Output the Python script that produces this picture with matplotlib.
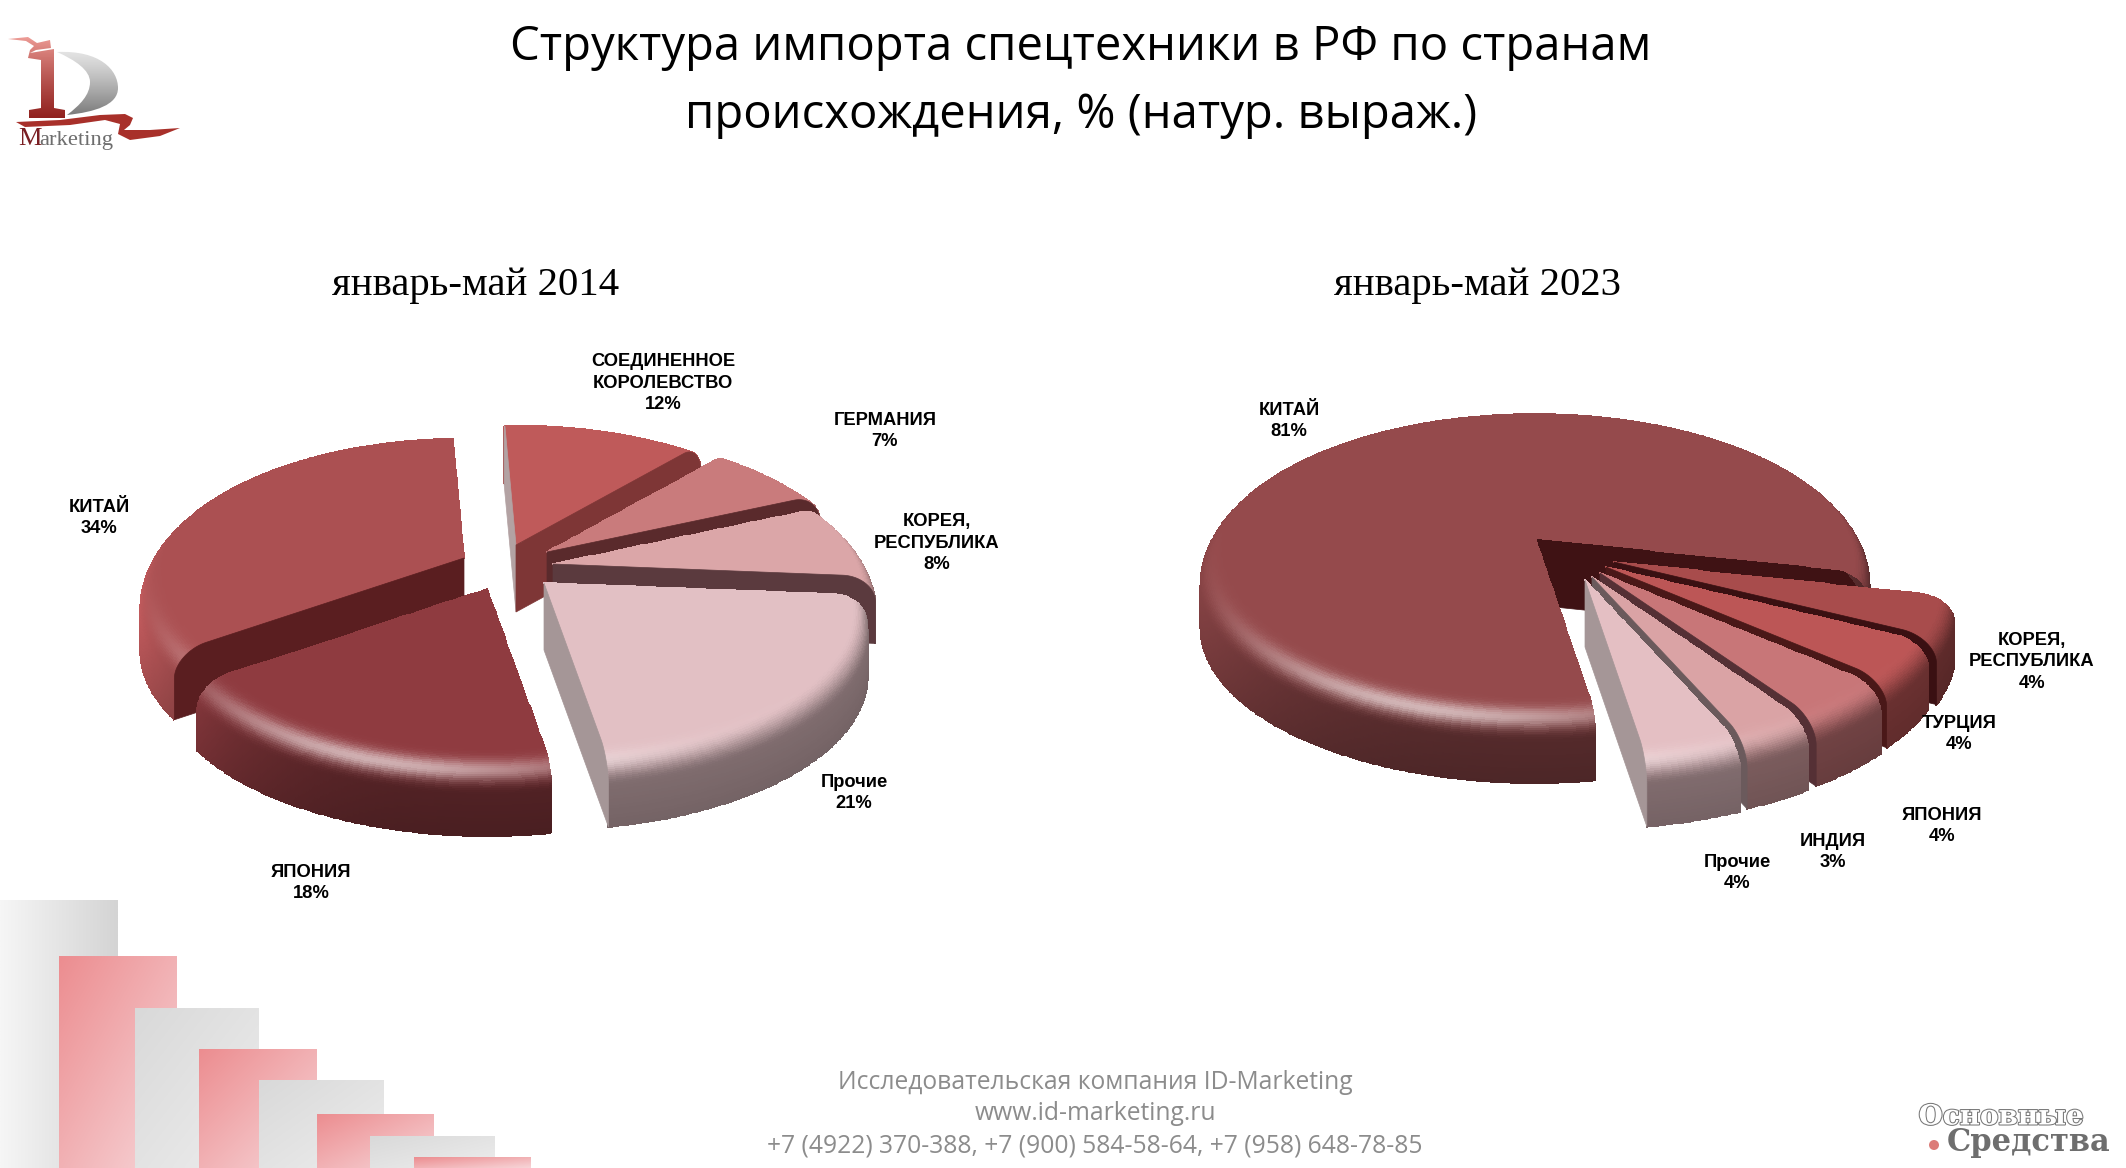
import numpy as np
import matplotlib
matplotlib.use("Agg")
import matplotlib.pyplot as plt
from matplotlib.colors import to_rgb
from matplotlib.patches import Circle, PathPatch, Polygon
from matplotlib.path import Path
import matplotlib.patheffects as pe

# Data
names_2014 = ["СОЕДИНЕННОЕ\nКОРОЛЕВСТВО", "ГЕРМАНИЯ", "КОРЕЯ,\nРЕСПУБЛИКА", "Прочие", "ЯПОНИЯ", "КИТАЙ"]
values_2014 = [12, 7, 8, 21, 18, 34]
names_2023 = ["КИТАЙ", "КОРЕЯ,\nРЕСПУБЛИКА", "ТУРЦИЯ", "ЯПОНИЯ", "ИНДИЯ", "Прочие"]
values_2023 = [81, 4, 4, 4, 3, 4]

title = "Структура импорта спецтехники в РФ по странам\nпроисхождения, % (натур. выраж.)"
period_2014 = "январь-май 2014"
period_2023 = "январь-май 2023"
footer = "Исследовательская компания ID-Marketing\nwww.id-marketing.ru\n+7 (4922) 370-388, +7 (900) 584-58-64, +7 (958) 648-78-85"

# Look of each pie: slice colours, apex of every exploded slice, colours of cut faces
colors_2014 = ["#BF5A5A", "#C97B7C", "#DBA6A8", "#E2C0C4", "#8F3B40", "#AB5052"]
apex_2014 = [(516, 545), (547, 552), (553, 564), (544, 583), (487, 589), (464, 558)]
scale_2014 = [1, 1, 1, 1, 1, 1]
start_face_2014 = ["#B3A2A3", None, None, None, None, "#5A1E20"]
end_face_2014 = ["#7E3636", "#5A2A2C", "#5B3A3E", "#A59697", None, None]
label_pos_2014 = [(663, 383), (885, 431), (937, 543), (854, 793), (311, 883), (99, 518)]

colors_2023 = ["#954A4C", "#A84C4C", "#BC5656", "#C87678", "#DAA3A5", "#E4BFC3"]
apex_2023 = [(1535, 538), (1614, 562), (1606, 567), (1600, 573), (1592, 577), (1585, 580)]
scale_2023 = [1, 1.02, 1.02, 1.02, 1.02, 1.02]
start_face_2023 = [None, None, None, None, None, None]
end_face_2023 = ["#3F1214", "#3A1012", "#4A1818", "#553035", "#6B5A5C", "#A59697"]
label_pos_2023 = [(1289, 421), (2032, 662), (1959, 734), (1942, 826), (1833, 852), (1737, 873)]

fig = plt.figure(figsize=(21.26, 11.68), dpi=100, facecolor="white")
ax = fig.add_axes([0, 0, 1, 1])
ax.axis("off")

# Profile of the rounded edge, from the rim bottom to the centre (drawn in this order)
n_top, n_bev, n_wall = 30, 26, 14
phi = np.linspace(0, np.pi / 2, n_bev)
prof_r = np.concatenate([np.linspace(0, 0.9, n_top), 0.9 + 0.1 * np.sin(phi), np.ones(n_wall)])
prof_z = np.concatenate([np.zeros(n_top), 0.38 * (1 - np.cos(phi)), np.linspace(0.38, 1, n_wall)])
prof_b = np.concatenate([np.zeros(n_top), np.linspace(0, 1, n_bev), np.ones(n_wall)])
prof_w = np.concatenate([np.zeros(n_top + n_bev), np.linspace(0, 1, n_wall)])
prof_r, prof_z, prof_b, prof_w = prof_r[::-1], prof_z[::-1], prof_b[::-1], prof_w[::-1]


def project(cx, cy, r, a, z, R, ry_back, ry_front, depth):
    # a is clockwise from the top; perspective makes the near half longer
    k = (ry_front - ry_back) / (ry_front + ry_back)
    b = ry_back * (1 + k)
    u, v = r * np.sin(a), r * np.cos(a)
    w = 1 + k * v
    return cx + R * u / w, cy - b * v / w + z * depth


def draw_faces(i, a0, a1, start_faces, end_faces, apexes, scales, R, ry_back, ry_front, depth):
    cx, cy = apexes[i]
    for ang, col in ((a0, start_faces[i]), (a1, end_faces[i])):
        if col is None:
            continue
        x, y = project(cx, cy, prof_r * scales[i], np.radians(ang), prof_z, R, ry_back, ry_front, depth)
        x = np.append(x, cx)
        y = np.append(y, cy + depth)
        ax.add_patch(Polygon(np.column_stack([x, y]), closed=True, fc=col, ec=col, lw=0.5))


def draw_pie(values, colors, apexes, scales, start_faces, end_faces, start_deg, R, ry_back, ry_front, depth, left_boost):
    edges = start_deg + np.cumsum([0] + list(values)) * 3.6
    mids = (edges[:-1] + edges[1:]) / 2
    # back slices first
    for i in np.argsort(-np.cos(np.radians(mids))):
        cx, cy = apexes[i]
        a0, a1 = edges[i], edges[i + 1]
        # a slice over half the pie hides its faces with its own top
        big = values[i] > 50
        if big:
            draw_faces(i, a0, a1, start_faces, end_faces, apexes, scales, R, ry_back, ry_front, depth)

        th = np.radians(np.linspace(a0, a1, max(int(a1 - a0) * 2, 12)))
        T, P = np.meshgrid(th, np.arange(len(prof_r)))
        X, Y = project(cx, cy, prof_r[P] * scales[i], T, prof_z[P], R, ry_back, ry_front, depth)

        # Shading
        left = np.clip(-np.sin(T), 0, 1) ** 3
        back = np.clip(np.cos(T), 0, 1)
        wall = (0.56 + left_boost * left) * (1 - 0.08 * prof_w[P])
        wall = wall * (1 - back) + 0.88 * back
        b = prof_b[P]
        step = np.clip((b - 0.35) / 0.65, 0, 1)
        step = step * step * (3 - 2 * step)
        mult = 1 + (wall - 1) * step
        deg = np.degrees(T) % 360
        glow = np.exp(-((deg - 198) / 34) ** 2) * np.exp(-((b - 0.5) / 0.2) ** 2) * 0.6
        rgb = np.clip(np.array(to_rgb(colors[i])) * mult[..., None], 0, 1)
        rgb = rgb + (1 - rgb) * glow[..., None]
        ax.pcolormesh(X, Y, rgb[:-1, :-1], shading="flat", edgecolors="face", linewidth=0.3)

        # the other cut faces go over the wall of their own slice
        if not big:
            draw_faces(i, a0, a1, start_faces, end_faces, apexes, scales, R, ry_back, ry_front, depth)


def draw_labels(names, values, positions):
    for name, val, (x, y) in zip(names, values, positions):
        ax.text(x, y, f"{name}\n{val}%", ha="center", va="center", family="Liberation Sans",
                fontweight="bold", fontsize=13.2, linespacing=1.36, color="black", zorder=9)


def gradient_rect(x0, x1, y0, y1, c0, c1, z, diagonal=True):
    # c0 in the upper left corner, c1 in the lower right one
    gx, gy = np.meshgrid(np.linspace(0, 1, 60), np.linspace(0, 1, 60))
    t = (gx + gy) / 2 if diagonal else gx
    img = np.array(to_rgb(c0)) + (np.array(to_rgb(c1)) - np.array(to_rgb(c0))) * t[..., None]
    ax.imshow(img, extent=(x0, x1, y1, y0), aspect="auto", interpolation="bilinear", zorder=z)


# Staircase in the lower left corner, each step lies over the one before it
gradient_rect(0, 118, 900, 1168, "#F6F6F6", "#D4D4D4", 0.1, diagonal=False)
stairs = [(59, 177, 956, "pink"), (135, 259, 1008, "grey"), (199, 317, 1049, "pink"), (259, 384, 1080, "grey"),
          (317, 434, 1114, "pink"), (370, 495, 1136, "grey"), (414, 531, 1157, "pink")]
for n, (x0, x1, top, kind) in enumerate(stairs):
    if kind == "pink":
        gradient_rect(x0, x1, top, 1168, "#EC8D90", "#F7D5D8", 0.2 + n * 0.1)
    else:
        gradient_rect(x0, x1, top, 1168, "#D9D9D9", "#EDEDED", 0.2 + n * 0.1)

# Pies
draw_pie(values_2014, colors_2014, apex_2014, scale_2014, start_face_2014, end_face_2014, -2.5, 319, 128, 180, 67, 0.6)
draw_pie(values_2023, colors_2023, apex_2023, scale_2023, start_face_2023, end_face_2023, 171, 331, 133, 178, 67, 0.35)
draw_labels(names_2014, values_2014, label_pos_2014)
draw_labels(names_2023, values_2023, label_pos_2023)

# Titles
ax.text(1081, 81, title, ha="center", va="center", family="Open Sans", fontsize=34,
        linespacing=1.55, color="black")
ax.text(476, 285, period_2014, ha="center", va="center", family="Liberation Serif", fontsize=29.3,
        color="black")
ax.text(1477, 286, period_2023, ha="center", va="center", family="Liberation Serif", fontsize=29.3,
        color="black")
ax.text(1095, 1114, footer, ha="center", va="center", family="Open Sans", fontsize=17.7,
        linespacing=1.36, color="#8C8C8C")

# Logo: red 1, grey D, ribbon
one = [(8, 39), (28, 37), (37, 43), (50, 40), (51, 48), (36, 50), (30, 53), (54, 49), (54, 108), (65, 110),
       (65, 118), (29, 118), (29, 110), (41, 108), (41, 60), (28, 58), (30, 50), (34, 46), (26, 41)]
one_patch = Polygon(one, closed=True, fc="none", ec="none")
ax.add_patch(one_patch)
gx, gy = np.meshgrid(np.linspace(0, 1, 4), np.linspace(0, 1, 60))
one_img = np.array(to_rgb("#F0A09A")) + (np.array(to_rgb("#8F1F1C")) - np.array(to_rgb("#F0A09A"))) * (gy[..., None] ** 0.8)
im = ax.imshow(one_img, extent=(5, 70, 120, 36), aspect="auto", zorder=3)
im.set_clip_path(one_patch)

d_path = Path([(57, 52), (100, 50), (118, 70), (118, 88), (118, 105), (95, 112), (67, 115),
               (80, 105), (90, 95), (90, 82), (90, 70), (75, 60), (57, 52)],
              [Path.MOVETO, Path.CURVE4, Path.CURVE4, Path.CURVE4, Path.CURVE4, Path.CURVE4, Path.CURVE4,
               Path.CURVE4, Path.CURVE4, Path.CURVE4, Path.CURVE4, Path.CURVE4, Path.CURVE4])
d_patch = PathPatch(d_path, fc="none", ec="none")
ax.add_patch(d_patch)
d_img = np.array(to_rgb("#E4E4E4")) + (np.array(to_rgb("#7A7A7A")) - np.array(to_rgb("#E4E4E4"))) * (gy[..., None] ** 1.2)
im = ax.imshow(d_img, extent=(55, 120, 116, 50), aspect="auto", zorder=3)
im.set_clip_path(d_patch)

ribbon = [(16, 122), (60, 120), (100, 115), (125, 114), (133, 118), (130, 125), (124, 130), (150, 130),
          (180, 128), (160, 136), (130, 140), (118, 134), (120, 124), (105, 120), (70, 125), (25, 127)]
ax.add_patch(Polygon(ribbon, closed=True, fc="#A8302A", ec="none", zorder=3))
ax.text(18, 139, "M", ha="left", va="center", family="Liberation Serif", fontsize=19, color="#7A1E22")
ax.text(39, 140, "arketing", ha="left", va="center", family="Liberation Serif", fontsize=16.2, color="#6E6E6E")

# Watermark in the lower right corner
ax.text(2001, 1117, "Основные", ha="center", va="center", family="DejaVu Serif", fontweight="bold",
        fontsize=20, color="white", zorder=5,
        path_effects=[pe.withStroke(linewidth=1.5, foreground="#777777")])
ax.text(2029, 1143, "Средства", ha="center", va="center", family="DejaVu Serif", fontweight="bold",
        fontsize=22, color="#6E6E6E", zorder=6)
ax.add_patch(Circle((1934, 1145), 5, fc="#DC7C78", ec="none", zorder=6))

ax.set_xlim(0, 2126)
ax.set_ylim(1168, 0)
fig.savefig("out.png", dpi=100, facecolor="white")
